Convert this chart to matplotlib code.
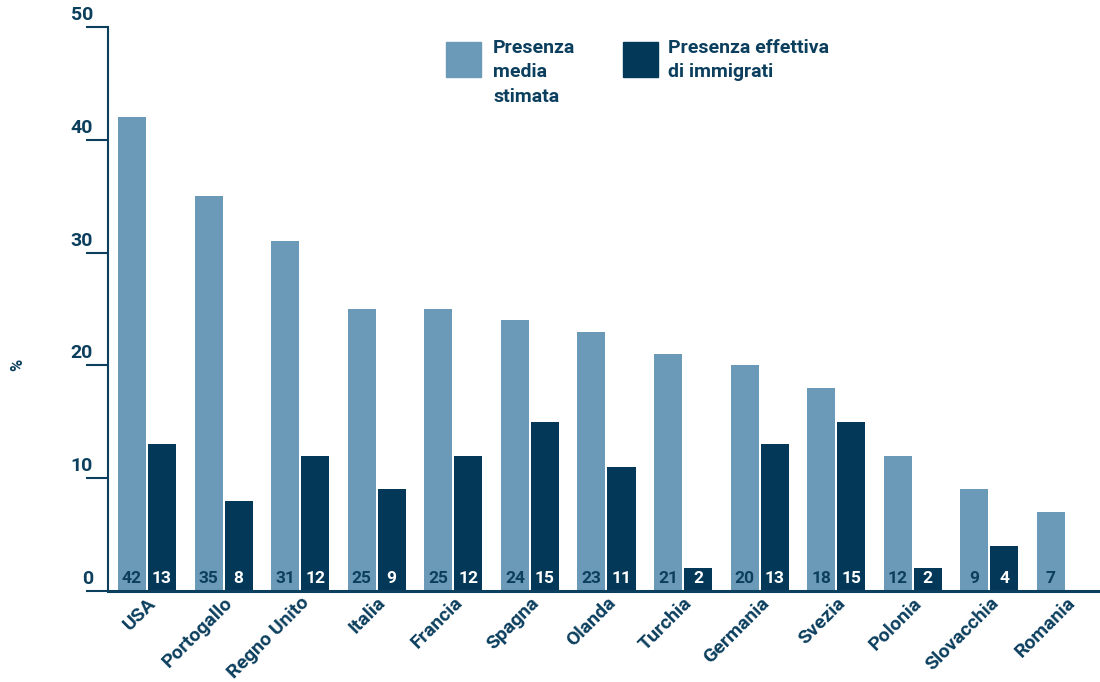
import matplotlib
matplotlib.use("Agg")
import matplotlib.pyplot as plt
from matplotlib import transforms
from matplotlib.patches import Rectangle
import numpy as np

countries = ["USA", "Portogallo", "Regno Unito", "Italia", "Francia", "Spagna",
             "Olanda", "Turchia", "Germania", "Svezia", "Polonia", "Slovacchia", "Romania"]
stimata = [42, 35, 31, 25, 25, 24, 23, 21, 20, 18, 12, 9, 7]
effettiva = [13, 8, 12, 9, 12, 15, 11, 2, 13, 15, 2, 4, None]
y_ticks = [0, 10, 20, 30, 40, 50]
legend_labels = ["Presenza\nmedia\nstimata", "Presenza effettiva\ndi immigrati"]

LIGHT = "#6b9ab8"
DARK = "#033858"
TEXT = "#0c3f5e"

plt.rcParams["font.family"] = ["Roboto", "DejaVu Sans"]

fig = plt.figure(figsize=(11, 6.82), dpi=100)
ax = fig.add_axes([108 / 1100, 1 - 591 / 682, 1 - 108 / 1100, (591 - 27) / 682])

x = np.arange(len(countries))
bw = 0.366
off = 0.392
ax.bar(x, stimata, width=bw, color=LIGHT, zorder=2)
dx = [xi + off for xi, v in zip(x, effettiva) if v is not None]
dv = [v for v in effettiva if v is not None]
ax.bar(dx, dv, width=bw, color=DARK, zorder=2)

for xi, v in zip(x, stimata):
    ax.text(xi, 0.45, str(v), ha="center", va="bottom", fontsize=12.5,
            fontweight="bold", color=TEXT, zorder=3)
for xi, v in zip(x, effettiva):
    if v is not None:
        ax.text(xi + off, 0.45, str(v), ha="center", va="bottom", fontsize=12.5,
                fontweight="bold", color="white", zorder=3)

ax.set_xlim(-0.313, 12.64)
ax.set_ylim(0, 50)

for s in ["top", "right"]:
    ax.spines[s].set_visible(False)
ax.spines["left"].set_color(TEXT)
ax.spines["left"].set_linewidth(1.5)
ax.spines["bottom"].set_color(TEXT)
ax.spines["bottom"].set_linewidth(2.2)
ax.spines["bottom"].set_zorder(4)

ax.set_yticks(y_ticks)
ax.tick_params(axis="y", direction="out", length=16, width=1.5, color=TEXT,
               labelleft=False)
ax.set_xticks(x + off / 2)
ax.set_xticklabels(countries, rotation=45, ha="right", rotation_mode="anchor",
                   fontsize=14, fontweight="bold", color=TEXT)
ax.tick_params(axis="x", length=0, pad=2)

label_tr = transforms.offset_copy(ax.get_yaxis_transform(), fig=fig, x=-15, y=3, units="dots")
for t in y_ticks:
    ax.text(0, t, str(t), transform=label_tr, ha="right", va="bottom",
            fontsize=14, fontweight="bold", color=TEXT, clip_on=False)

fig.text(18 / 1100, 1 - 365 / 682, "%", rotation=90, ha="center", va="center",
         fontsize=12, fontweight="bold", color=TEXT)

# legend drawn as squares with text beside them
for (px, tx, col, lab) in [(446, 493, LIGHT, legend_labels[0]), (623, 668, DARK, legend_labels[1])]:
    fig.patches.append(Rectangle((px / 1100, 1 - 77 / 682), 35 / 1100, 35 / 682,
                                 transform=fig.transFigure, color=col))
    fig.text(tx / 1100, 1 - 39 / 682, lab, ha="left", va="top", fontsize=14,
             fontweight="bold", color=TEXT, linespacing=1.45)

fig.savefig("out.png", dpi=100)
